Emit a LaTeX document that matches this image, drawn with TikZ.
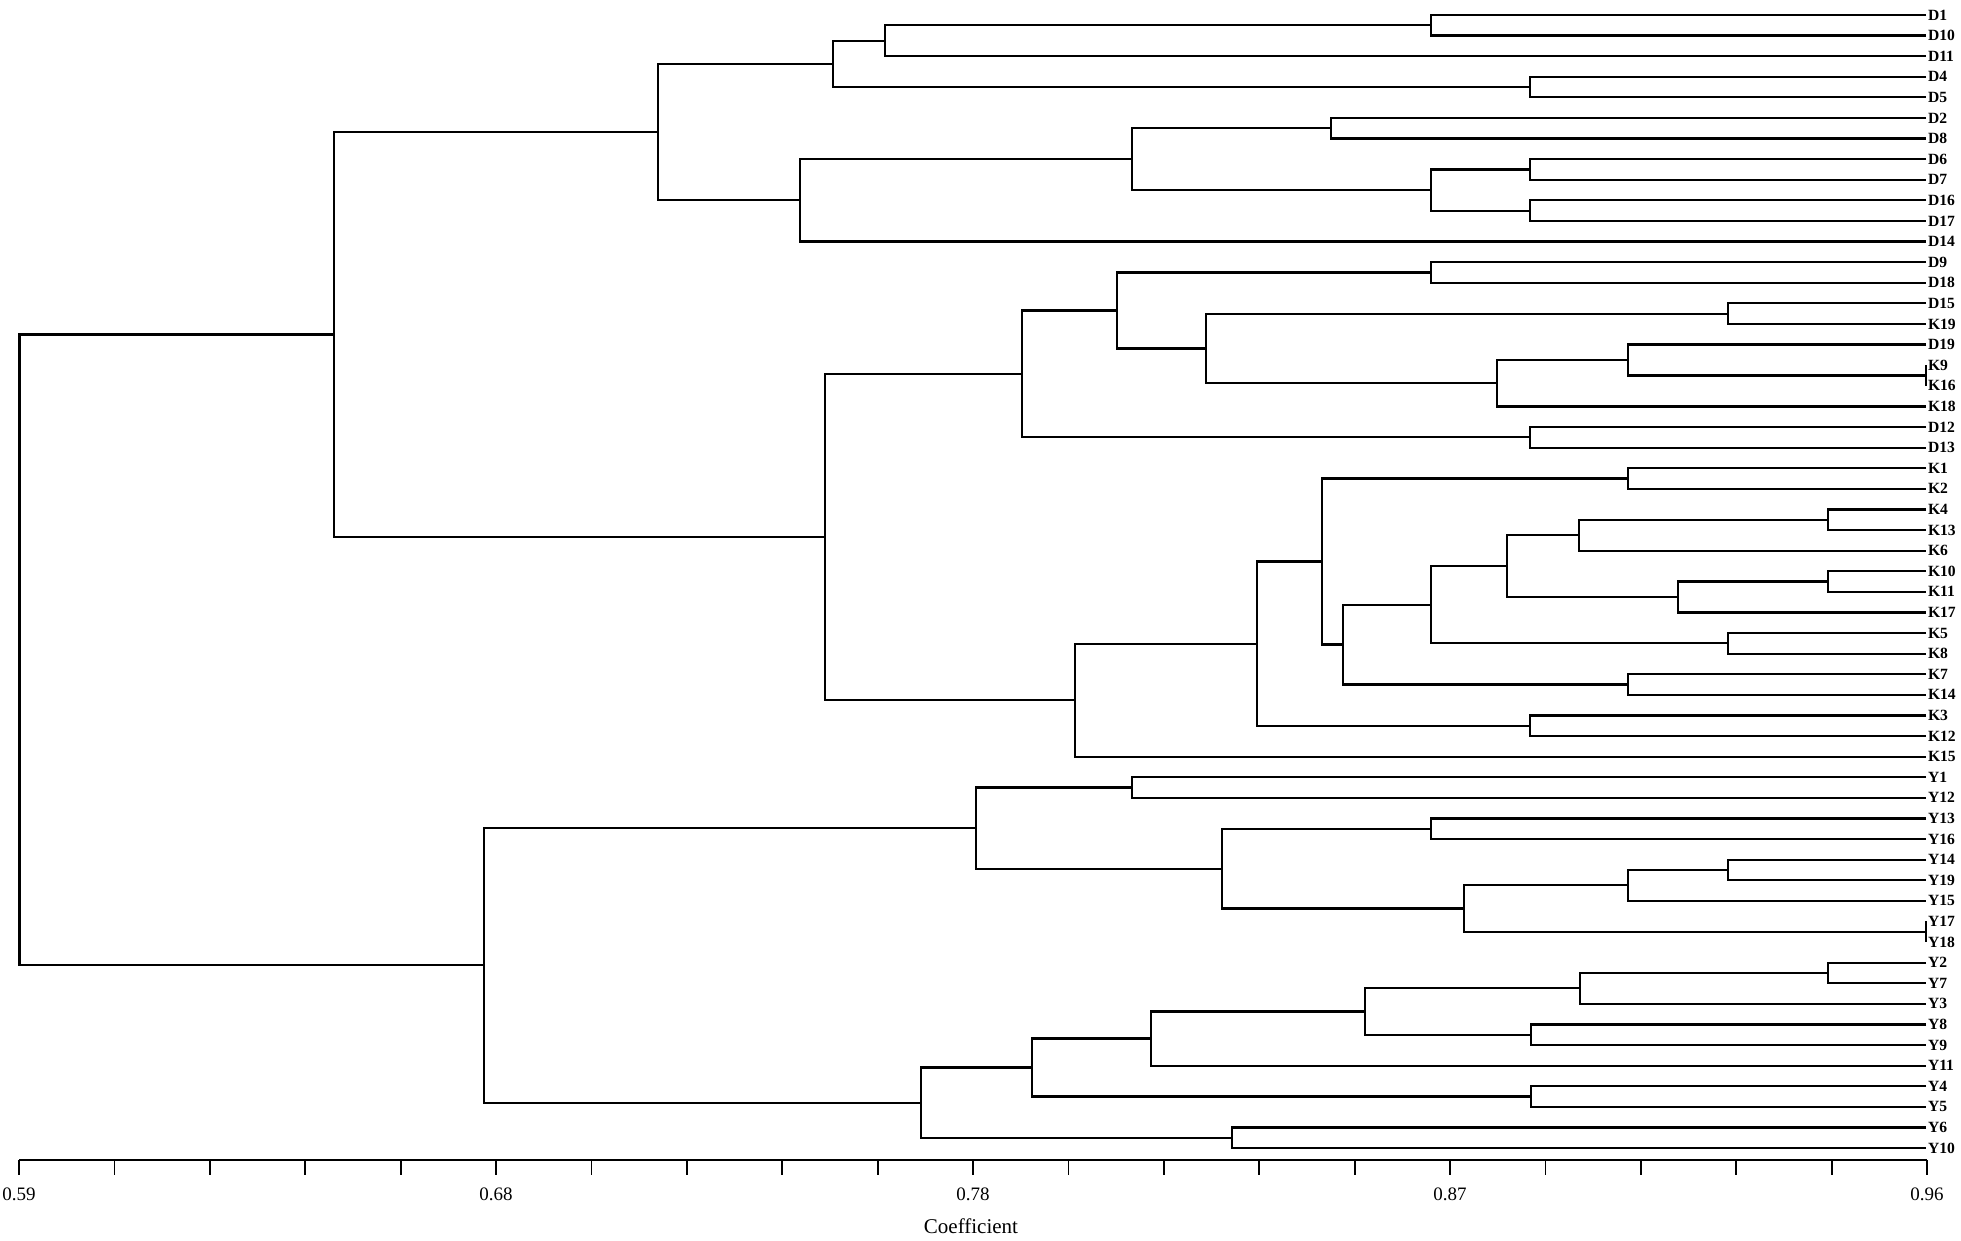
\documentclass[tikz,border=0pt]{standalone}
\usepackage{fontspec}
\setmainfont{Liberation Serif}
\usetikzlibrary{calc}
\newcommand{\dnode}[4]{%
  \coordinate (#1-x) at (#2,0);
  \coordinate (#1-mid) at ($(#3)!0.5!(#4)$);
  \coordinate (#1) at (#1-x |- #1-mid);
  \draw[branch] (#3) -| (#1) |- (#4);
}
\tikzset{
  branch/.style={line width=1.1pt, line join=miter},
  leaflab/.style={anchor=west, inner sep=0pt, xshift=0.8pt, font=\bfseries\fontsize{7.8}{8}\selectfont},
  ticklab/.style={anchor=center, inner sep=0pt, font=\fontsize{9.5}{10}\selectfont},
  axlab/.style={anchor=center, inner sep=0pt, font=\fontsize{10.5}{11}\selectfont},
  axisline/.style={line width=1.1pt},
  tickline/.style={line width=0.9pt}
}
\begin{document}
\begin{tikzpicture}[x=0.5pt, y=-0.5pt]
\fill[white] (0,0) rectangle (1961,1241);
\path[use as bounding box] (0,0) rectangle (1961,1241);

% leaves
\foreach \n [count=\i from 0] in {D1,D10,D11,D4,D5,D2,D8,D6,D7,D16,D17,D14,D9,D18,D15,K19,D19,K9,K16,K18,D12,D13,K1,K2,K4,K13,K6,K10,K11,K17,K5,K8,K7,K14,K3,K12,K15,Y1,Y12,Y13,Y16,Y14,Y19,Y15,Y17,Y18,Y2,Y7,Y3,Y8,Y9,Y11,Y4,Y5,Y6,Y10}{
  \coordinate (\n) at (1926,{15+20.6*\i});
  \node[leaflab] (t\n) at (\n) {\n};
}

% D cluster
\dnode{n1}{1431}{D1}{D10}
\dnode{n2}{885}{n1}{D11}
\dnode{n3}{1530}{D4}{D5}
\dnode{n4}{833}{n2}{n3}
\dnode{n5}{1331}{D2}{D8}
\dnode{n6}{1530}{D6}{D7}
\dnode{n7}{1530}{D16}{D17}
\dnode{n8}{1431}{n6}{n7}
\dnode{n9}{1132}{n5}{n8}
\dnode{n10}{800}{n9}{D14}
\dnode{n11}{658}{n4}{n10}

% mixed D/K cluster
\dnode{m1}{1431}{D9}{D18}
\dnode{m2}{1728}{D15}{K19}
\dnode{m3}{1926}{K9}{K16}
\dnode{m4}{1628}{D19}{m3}
\dnode{m5}{1497}{m4}{K18}
\dnode{m6}{1206}{m2}{m5}
\dnode{m7}{1117}{m1}{m6}
\dnode{m8}{1530}{D12}{D13}
\dnode{m9}{1022}{m7}{m8}

% K cluster
\dnode{k1}{1628}{K1}{K2}
\dnode{k2}{1828}{K4}{K13}
\dnode{k3}{1579}{k2}{K6}
\dnode{k4}{1828}{K10}{K11}
\dnode{k5}{1678}{k4}{K17}
\dnode{k6}{1507}{k3}{k5}
\dnode{k7}{1728}{K5}{K8}
\dnode{k8}{1431}{k6}{k7}
\dnode{k9}{1628}{K7}{K14}
\dnode{k10}{1343}{k8}{k9}
\dnode{k11}{1322}{k1}{k10}
\dnode{k12}{1530}{K3}{K12}
\dnode{k13}{1257}{k11}{k12}
\dnode{k14}{1075}{k13}{K15}

\dnode{a2}{825}{m9}{k14}
\dnode{a}{334}{n11}{a2}

% Y cluster
\dnode{y1}{1132}{Y1}{Y12}
\dnode{y2}{1431}{Y13}{Y16}
\dnode{y3}{1728}{Y14}{Y19}
\dnode{y4}{1628}{y3}{Y15}
\dnode{y5}{1926}{Y17}{Y18}
\dnode{y6}{1464}{y4}{y5}
\dnode{y7}{1222}{y2}{y6}
\dnode{y8}{976}{y1}{y7}
\dnode{y9}{1828}{Y2}{Y7}
\dnode{y10}{1580}{y9}{Y3}
\dnode{y11}{1531}{Y8}{Y9}
\dnode{y12}{1365}{y10}{y11}
\dnode{y13}{1151}{y12}{Y11}
\dnode{y14}{1531}{Y4}{Y5}
\dnode{y15}{1032}{y13}{y14}
\dnode{y16}{1232}{Y6}{Y10}
\dnode{y17}{921}{y15}{y16}
\dnode{b}{484}{y8}{y17}

\dnode{root}{19.5}{a}{b}

% axis
\coordinate (ax0) at (19,1160);
\coordinate (ax1) at (1927,1160);
\draw[axisline] (ax0) -- (ax1);
\foreach \k in {0,...,20}{
  \coordinate (tka\k) at ({19+95.4*\k},1160);
  \coordinate (tkb\k) at ({19+95.4*\k},1175);
  \draw[tickline] (tka\k) -- (tkb\k);
}
\foreach \k/\t in {0/0.59,5/0.68,10/0.78,15/0.87,20/0.96}{
  \node[ticklab] (tl\k) at ({19+95.4*\k},1194) {\t};
}
\node[axlab] (coef) at (971,1226) {Coefficient};
\end{tikzpicture}
\end{document}
